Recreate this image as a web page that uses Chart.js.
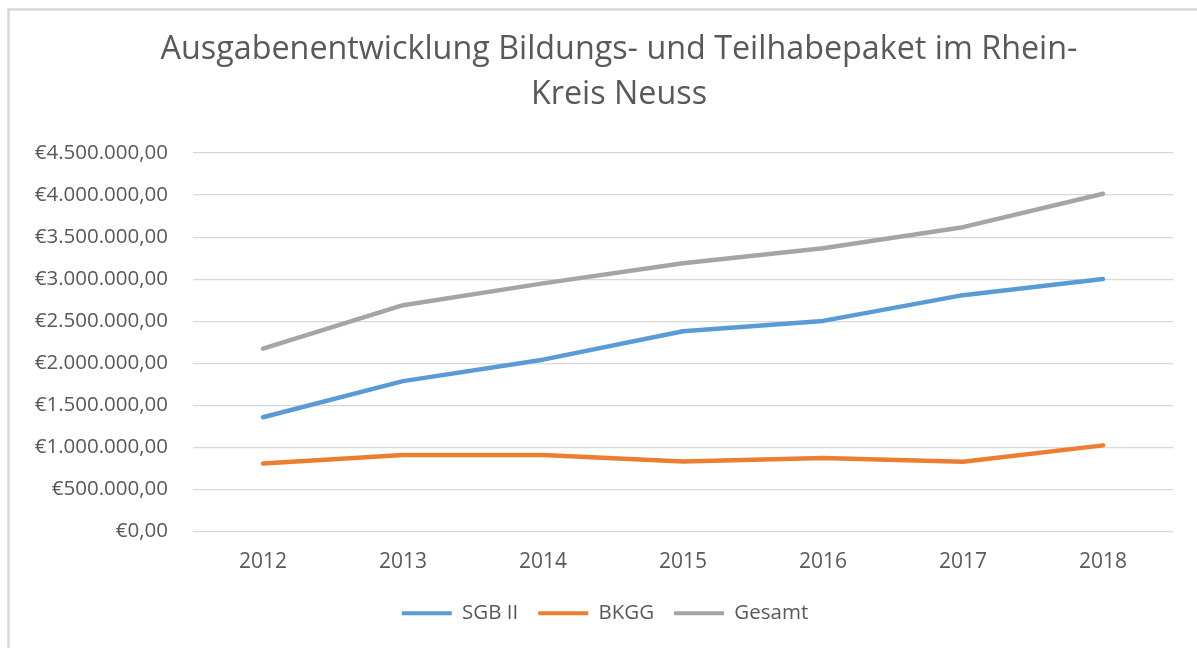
<!DOCTYPE html>
<html>
<head>
<meta charset="utf-8">
<script src="https://cdn.jsdelivr.net/npm/chart.js@4"></script>
<style>
html,body{margin:0;padding:0;background:#fff;}
#wrap{position:relative;width:1197px;height:648px;}
</style>
</head>
<body>
<div id="wrap"><canvas id="c" width="1197" height="648"></canvas></div>
<script>
const titleLines = ["Ausgabenentwicklung Bildungs- und Teilhabepaket im Rhein-", "Kreis Neuss"];
const years = ["2012", "2013", "2014", "2015", "2016", "2017", "2018"];
const sgb2 = [1358000, 1788000, 2043000, 2381000, 2504000, 2810000, 3001000];
const bkgg = [809000, 909000, 909000, 833000, 874000, 829000, 1024000];
const gesamt = [2174000, 2691000, 2950000, 3189000, 3368000, 3618000, 4016000];
const seriesNames = ["SGB II", "BKGG", "Gesamt"];
const seriesColors = ["#5B9BD5", "#ED7D31", "#A5A5A5"];

function euro(v) {
  const neg = v < 0;
  v = Math.abs(v);
  const whole = Math.floor(v);
  const cents = Math.round((v - whole) * 100);
  const s = String(whole).replace(/\B(?=(\d{3})+(?!\d))/g, ".");
  return (neg ? "-" : "") + "€" + s + "," + String(cents).padStart(2, "0");
}

const frame = {
  id: "frame",
  beforeDraw(chart) {
    const ctx = chart.ctx;
    ctx.save();
    ctx.strokeStyle = "#d9d9d9";
    ctx.lineWidth = 2.5;
    ctx.beginPath();
    ctx.moveTo(8.5, 700);
    ctx.lineTo(8.5, 9.5);
    ctx.lineTo(1300, 9.5);
    ctx.stroke();
    ctx.restore();
  }
};
const blockShift = {
  id: "blockShift",
  afterLayout(chart) {
    if (chart.titleBlock) {
      chart.titleBlock.left += 32.5;
      chart.titleBlock.right += 32.5;
    }
    if (chart.legend) {
      chart.legend.left += 18.5;
      chart.legend.right += 18.5;
    }
  }
};

const datasets = [sgb2, bkgg, gesamt].map((d, i) => ({
  label: seriesNames[i],
  data: d,
  borderColor: seriesColors[i],
  backgroundColor: seriesColors[i],
  borderWidth: 4.5,
  pointRadius: 0,
  pointHoverRadius: 0,
  tension: 0,
  borderCapStyle: "round",
  borderJoinStyle: "round"
}));

Chart.defaults.font.family = "'Open Sans', sans-serif";
Chart.defaults.color = "#595959";

new Chart(document.getElementById("c"), {
  type: "line",
  data: { labels: years, datasets },
  plugins: [frame, blockShift],
  options: {
    responsive: false,
    animation: false,
    layout: { padding: { left: 0, right: 24, top: 0, bottom: 14.5 } },
    plugins: {
      title: {
        display: true,
        text: titleLines,
        color: "#595959",
        font: { size: 32.3, weight: "normal", lineHeight: 45 / 32.3 },
        padding: { top: 27, bottom: 36 }
      },
      legend: {
        position: "bottom",
        labels: {
          boxWidth: 50,
          boxHeight: 4,
          padding: 20,
          color: "#595959",
          font: { size: 20.5 },
          generateLabels(chart) {
            const items = Chart.defaults.plugins.legend.labels.generateLabels(chart);
            items.forEach(it => { it.lineWidth = 0; it.fillStyle = chart.data.datasets[it.datasetIndex].borderColor; });
            return items;
          }
        }
      },
      tooltip: { enabled: false }
    },
    scales: {
      x: {
        offset: true,
        grid: { display: false, drawTicks: false, offset: true },
        border: { display: false },
        ticks: { padding: 18, color: "#595959", font: { size: 21 } },
        afterFit(s) { s.height = 51.5; }
      },
      y: {
        min: 0,
        max: 4500000,
        grid: { color: "#d9d9d9", lineWidth: 1.2, drawTicks: false },
        border: { display: false },
        ticks: {
          stepSize: 500000,
          padding: 25,
          color: "#595959",
          font: { size: 20.5 },
          callback: v => euro(v)
        },
        afterFit(s) { s.width = 193; }
      }
    }
  }
});
</script>
</body>
</html>
